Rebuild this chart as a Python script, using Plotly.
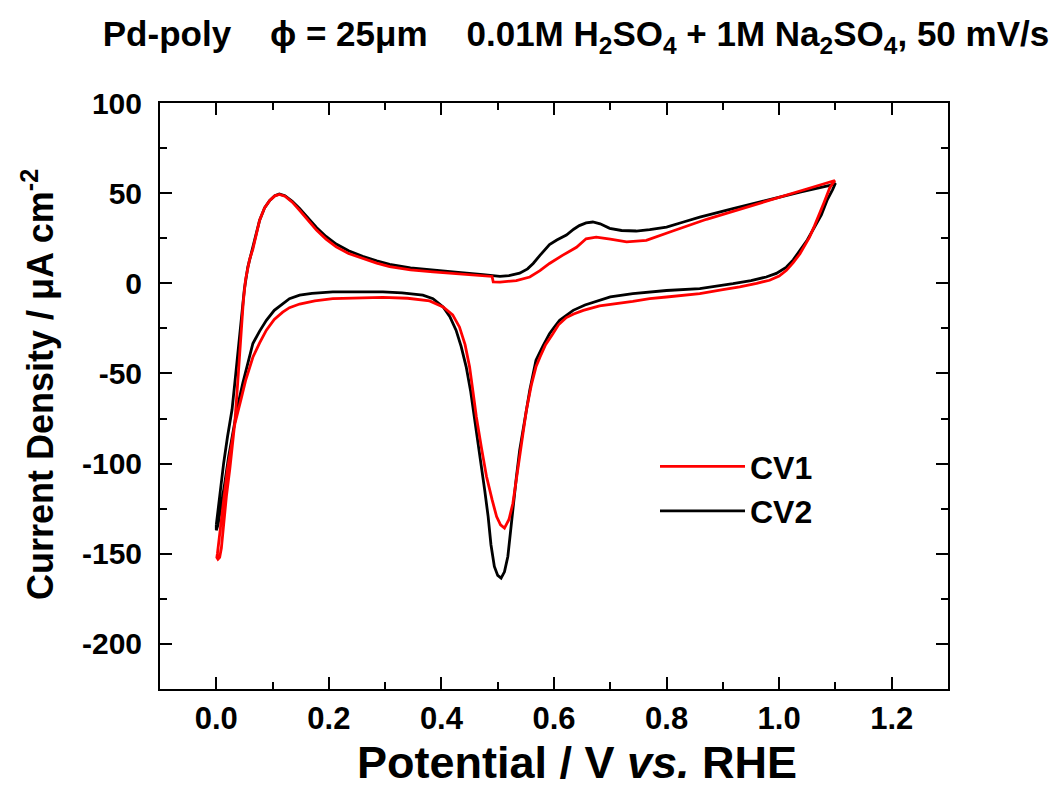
import plotly.graph_objects as go

# ---------------- data ----------------
# CV2 (black) closed loop: anodic sweep then cathodic sweep
cv2_x = [0.000, 0.006, 0.013, 0.020, 0.028, 0.034, 0.040, 0.045, 0.050, 0.056, 0.063, 0.070,
         0.077, 0.086, 0.095, 0.104, 0.112, 0.122, 0.135, 0.148, 0.163, 0.178, 0.195, 0.213,
         0.235, 0.260, 0.285, 0.308, 0.345, 0.385, 0.430, 0.474, 0.490, 0.504, 0.520, 0.539,
         0.553, 0.563, 0.575, 0.592, 0.605, 0.622, 0.635, 0.645, 0.657, 0.669, 0.682, 0.699,
         0.720, 0.746, 0.770, 0.800, 0.830, 0.859, 0.918, 0.977, 1.037, 1.090, 1.100,
         1.095, 1.085, 1.075, 1.066, 1.050, 1.037, 1.025, 1.013, 0.995, 0.977, 0.950, 0.918,
         0.859, 0.800, 0.740, 0.700, 0.681, 0.655, 0.634, 0.620, 0.610, 0.600, 0.592, 0.580,
         0.568, 0.557, 0.548, 0.539, 0.533, 0.527, 0.522, 0.518, 0.512, 0.506, 0.500, 0.494,
         0.488, 0.483, 0.477, 0.471, 0.465, 0.459, 0.452, 0.444, 0.435, 0.426, 0.415, 0.403,
         0.385, 0.367, 0.330, 0.296, 0.250, 0.207, 0.170, 0.148, 0.130, 0.118, 0.103, 0.089,
         0.077, 0.065, 0.056, 0.047, 0.038, 0.030, 0.022, 0.015, 0.008, 0.003, 0.000, 0.000]
cv2_y = [-134, -118, -100, -85, -70, -52, -35, -18, -3, 9, 18, 27,
         35, 42, 46, 48.6, 49.5, 48.6, 45.5, 41.5, 36, 31, 26, 21.8,
         18, 15, 12.5, 10.5, 8.5, 7.2, 6, 4.8, 4.2, 3.9, 4.3, 5.6,
         8, 11, 15.5, 21.5, 24, 26.8, 30, 32, 33.5, 34, 33, 30.5,
         29.3, 29, 29.8, 31.2, 34, 36.7, 41.4, 46, 50.6, 54.3, 55.5,
         52, 46, 38, 33, 24, 18.3, 13, 9, 5.5, 3.5, 1.5, -0.2,
         -2.9, -4, -5.7, -7.5, -9.4, -12, -15, -18, -20.5, -24.5, -28, -35,
         -42.6, -59.2, -75, -92.5, -108, -125.7, -140, -151.5, -160, -163.5, -162, -157,
         -145, -129.4, -115, -101.7, -88, -74, -60, -46.3, -35, -26, -18.5, -13.1,
         -8.5, -6.6, -5.3, -4.8, -4.6, -4.8, -5.6, -6.6, -8.5, -11.2, -15, -20.5,
         -26.5, -33.4, -44, -55.5, -68, -81.4, -96, -111, -125, -134, -137, -134]

# CV1 (red) closed loop: anodic sweep then cathodic sweep
cv1_x = [0.009, 0.013, 0.018, 0.024, 0.029, 0.033, 0.037, 0.041, 0.044, 0.048, 0.052, 0.059,
         0.065, 0.071, 0.077, 0.086, 0.095, 0.104, 0.112, 0.122, 0.135, 0.148, 0.163, 0.178,
         0.195, 0.213, 0.235, 0.260, 0.285, 0.308, 0.345, 0.385, 0.430, 0.474, 0.490, 0.492,
         0.504, 0.533, 0.557, 0.575, 0.592, 0.615, 0.640, 0.657, 0.675, 0.700, 0.729, 0.764,
         0.790, 0.811, 0.871, 0.930, 0.989, 1.049, 1.099,
         1.090, 1.080, 1.072, 1.063, 1.054, 1.045, 1.037, 1.025, 1.013, 1.000, 0.983, 0.960,
         0.930, 0.900, 0.859, 0.800, 0.770, 0.740, 0.711, 0.681, 0.652, 0.635, 0.622, 0.608,
         0.598, 0.585, 0.575, 0.568, 0.560, 0.551, 0.545, 0.539, 0.533, 0.527, 0.520, 0.512,
         0.505, 0.498, 0.490, 0.480, 0.471, 0.462, 0.456, 0.450, 0.442, 0.432, 0.420, 0.403,
         0.379, 0.340, 0.296, 0.250, 0.207, 0.175, 0.148, 0.130, 0.118, 0.103, 0.089, 0.077,
         0.065, 0.058, 0.052, 0.045, 0.038, 0.033, 0.027, 0.020, 0.014, 0.009, 0.005, 0.002,
         0.001, 0.003, 0.006, 0.009]
cv1_y = [-147, -133, -118, -103, -89, -77, -60, -42, -26, -10, 2, 13,
         19, 28, 35, 42, 46, 48.5, 49.3, 48.3, 45, 40.5, 35, 29.5,
         24.5, 20.2, 16.5, 13.7, 11.2, 9.2, 7.5, 6.3, 5.2, 4.4, 3.8, 0.8,
         0.7, 1.5, 3.5, 7, 11, 15.5, 20, 24.7, 25.6, 24.5, 23, 23.8,
         26.5, 29, 35.5, 41.2, 46.8, 52.3, 57,
         53, 45, 38.6, 32, 25.6, 20.5, 16.4, 11.5, 7.2, 4, 1.7, 0,
         -2, -3.5, -5.7, -7.6, -8.5, -10, -11.2, -12.5, -15, -17, -19, -23,
         -28, -34, -41, -46.3, -56, -70.3, -83, -96.2, -109, -122, -131, -135.8,
         -134, -129.4, -120, -107, -91, -74, -60, -46.3, -34, -24.2, -17.5, -13.1,
         -9.8, -8.3, -7.8, -8, -8.5, -9.8, -11.5, -13.5, -16, -20, -26, -33,
         -41, -48, -54, -63, -72, -78, -90, -103, -118, -133, -145, -150,
         -152, -153, -152, -147]

series_names = ["CV1", "CV2"]
series_colors = ["#ff0000", "#000000"]

x_ticks = [0.0, 0.2, 0.4, 0.6, 0.8, 1.0, 1.2]
y_ticks = [100, 50, 0, -50, -100, -150, -200]

FONT = "Arial, 'Liberation Sans', Helvetica, sans-serif"

fig = go.Figure()
# CV2 drawn first so CV1 (red) sits on top
fig.add_trace(go.Scatter(x=cv2_x, y=cv2_y, mode="lines", name=series_names[1],
                         line=dict(color=series_colors[1], width=2.8), legendrank=2))
fig.add_trace(go.Scatter(x=cv1_x, y=cv1_y, mode="lines", name=series_names[0],
                         line=dict(color=series_colors[0], width=2.8), legendrank=1))

axis_common = dict(
    showline=True, linecolor="black", linewidth=2, mirror="allticks",
    ticks="inside", ticklen=12, tickwidth=2, tickcolor="black",
    showgrid=False, zeroline=False,
)

fig.update_xaxes(range=[-0.1, 1.3], tickvals=x_ticks,
                 ticktext=[f"{v:.1f}" for v in x_ticks],
                 tickfont=dict(family=FONT, size=31, color="black", weight="bold"),
                 ticklabelstandoff=1,
                 minor=dict(ticks="inside", ticklen=7, tickwidth=2, tickcolor="black", dtick=0.1, tick0=0),
                 **axis_common)
fig.update_yaxes(range=[-225, 100], tickvals=y_ticks,
                 ticktext=[str(v) for v in y_ticks],
                 tickfont=dict(family=FONT, size=30, color="black", weight="bold"),
                 ticklabelstandoff=10,
                 minor=dict(ticks="inside", ticklen=7, tickwidth=2, tickcolor="black", dtick=25, tick0=0),
                 **axis_common)

nb = "\u00a0"
title_text = ("<b>Pd-poly" + nb * 4 + "\u03d5 = 25\u03bcm" + nb * 4 +
              "0.01M H<sub>2</sub>SO<sub>4</sub> + 1M Na<sub>2</sub>SO<sub>4</sub>, 50 mV/s</b>")

fig.update_layout(
    width=1054, height=797,
    margin=dict(l=160, r=106, t=103, b=108),
    paper_bgcolor="white", plot_bgcolor="white",
    title=dict(text=title_text, x=576 / 1054, xanchor="center", xref="container",
               y=1 - 34 / 797, yanchor="middle", yref="container",
               font=dict(family=FONT, size=35, color="black")),
    annotations=[
        dict(text="<b>Potential / V <i>vs.</i> RHE</b>", xref="paper", yref="paper",
             x=(577 - 160) / 788, y=(689 - 763) / 586, xanchor="center", yanchor="middle",
             showarrow=False, font=dict(family=FONT, size=45, color="black")),
        dict(text="<b>Current Density / \u03bcA cm<sup>-2</sup></b>", xref="paper", yref="paper",
             x=(38 - 160) / 788, y=(689 - 385) / 586, xanchor="center", yanchor="middle",
             textangle=-90, showarrow=False, font=dict(family=FONT, size=36, color="black")),
    ],
    showlegend=True,
    legend=dict(x=(655 - 160) / 788, y=(689 - 439) / 586, xanchor="left", yanchor="top",
                font=dict(family=FONT, size=32, color="black", weight="bold"),
                itemwidth=85,
                bgcolor="rgba(0,0,0,0)", borderwidth=0, tracegroupgap=6),
)

fig.write_html("out.html")
